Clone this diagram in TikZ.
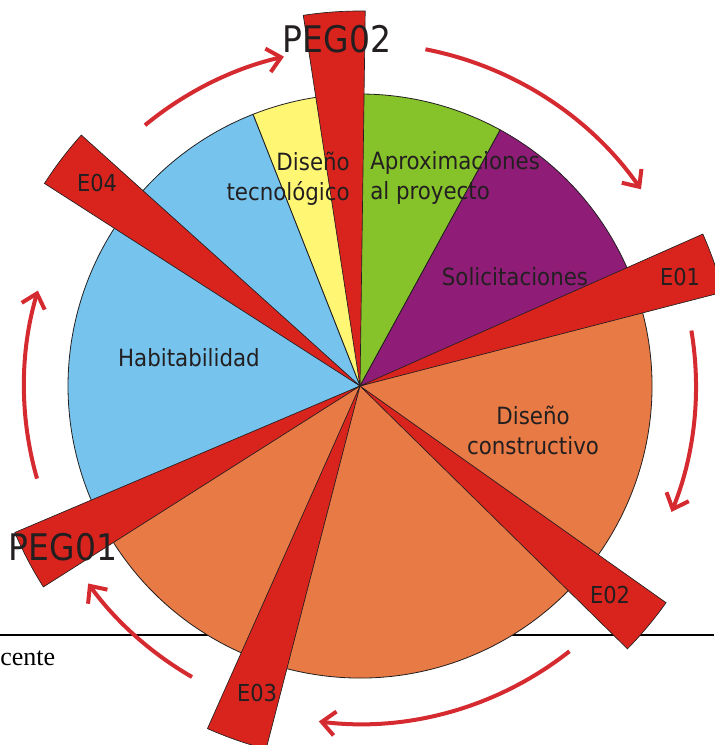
\documentclass[tikz,border=0pt]{standalone}
\usepackage{fontspec}
\setmainfont{DejaVu Sans Condensed}
\newfontfamily\serifont{Liberation Serif}
\usetikzlibrary{arrows.meta}

\definecolor{wedgered}{RGB}{217,36,30}
\definecolor{arrowred}{RGB}{212,42,48}
\definecolor{pgreen}{RGB}{134,194,42}
\definecolor{ppurple}{RGB}{143,29,120}
\definecolor{porange}{RGB}{231,122,69}
\definecolor{pblue}{RGB}{118,196,238}
\definecolor{pyellow}{RGB}{255,247,115}
\definecolor{inkgray}{RGB}{35,31,32}

\begin{document}
\begin{tikzpicture}[x=0.75pt,y=0.75pt,
  sector/.style={draw=inkgray,line width=0.6pt,line join=round},
  wedge/.style={fill=wedgered,draw=inkgray,line width=0.5pt},
  cycle arrow/.style={arrowred,line width=3pt,-{Straight Barb[length=10pt,width=18pt]}},
  label/.style={text=inkgray,font=\fontsize{17.8}{22.5}\selectfont,inner sep=0pt},
  tag/.style={text=inkgray,font=\fontsize{17.5}{20}\selectfont,inner sep=0pt},
  peg/.style={text=inkgray,font=\fontsize{27.5}{30}\selectfont,inner sep=0pt}]

\useasboundingbox (-360,-359) rectangle (354,386);

\coordinate (O) at (0,0);

\draw[black,line width=1.5pt] (-360,-249) -- (354,-249);
\node[anchor=base west,inner sep=0pt,font=\serifont\fontsize{19.5}{22}\selectfont] (cente) at (-360,-279) {cente};

\fill[pgreen,sector] (O) -- (61.3:292) arc[start angle=61.3, end angle=94, radius=292] -- cycle;
\fill[pyellow,sector] (O) -- (94:292) arc[start angle=94, end angle=111.5, radius=292] -- cycle;
\fill[pblue,sector] (O) -- (111.5:292) arc[start angle=111.5, end angle=207, radius=292] -- cycle;
\fill[porange,sector] (O) -- (207:292) arc[start angle=207, end angle=379, radius=292] -- cycle;
\fill[ppurple,sector] (O) -- (19:292) arc[start angle=19, end angle=61.3, radius=292] -- cycle;

\draw[wedge] (O) -- (89.2:375) arc[start angle=89.2, end angle=98.7, radius=375] -- cycle;
\draw[wedge] (O) -- (14.5:375) arc[start angle=14.5, end angle=23.9, radius=375] -- cycle;
\draw[wedge] (O) -- (-44.5:375) arc[start angle=-44.5, end angle=-35.3, radius=375] -- cycle;
\draw[wedge] (O) -- (246:375) arc[start angle=246, end angle=255.5, radius=375] -- cycle;
\draw[wedge] (O) -- (203:375) arc[start angle=203, end angle=212.4, radius=375] -- cycle;
\draw[wedge] (O) -- (138:375) arc[start angle=138, end angle=147.3, radius=375] -- cycle;

\draw[cycle arrow] (196:336) arc[start angle=196, end angle=163.5, radius=336];
\draw[cycle arrow] (129.5:338) arc[start angle=129.5, end angle=103, radius=338];
\draw[cycle arrow] (79:343) arc[start angle=79, end angle=35, radius=343];
\draw[cycle arrow] (9.5:336) arc[start angle=9.5, end angle=-22, radius=336];
\draw[cycle arrow] (-51.7:338) arc[start angle=-51.7, end angle=-97, radius=338];
\draw[cycle arrow] (240:336) arc[start angle=240, end angle=216, radius=336];

\node[label,anchor=east,align=right] (tecno) at (-10,207) {Diseño\\tecnológico};
\node[label,anchor=west,align=left] (aprox) at (10,208) {Aproximaciones\\al proyecto};
\node[label] (solic) at (155,109) {Solicitaciones};
\node[label] (habit) at (-171,28) {Habitabilidad};
\node[label,align=center] (constr) at (173,-44) {Diseño\\constructivo};

\node[tag] (e01) at (320,109) {E01};
\node[tag] (e02) at (250,-209) {E02};
\node[tag] (e03) at (-103,-307) {E03};
\node[tag] (e04) at (-263,203) {E04};

\node[peg] (peg02) at (-23,347) {PEG02};
\node[peg] (peg01) at (-297,-161) {PEG01};

\end{tikzpicture}
\end{document}
